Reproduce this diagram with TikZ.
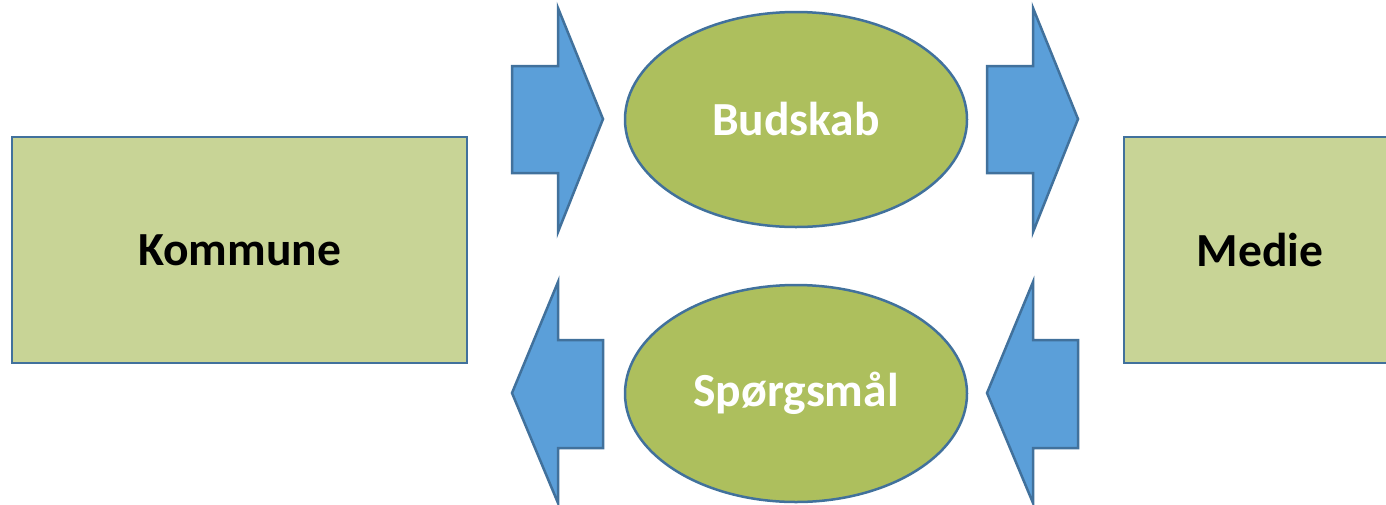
\documentclass[tikz,border=0pt]{standalone}
\usepackage{fontspec}
\setmainfont{Carlito}
\usetikzlibrary{shapes.geometric}
\definecolor{boxfill}{HTML}{C8D496}
\definecolor{ellfill}{HTML}{ADBF5D}
\definecolor{arrfill}{HTML}{5B9FD9}
\definecolor{edge}{HTML}{41719C}
\begin{document}
\begin{tikzpicture}[x=1pt,y=-1pt,
  boxstyle/.style={draw=edge,line width=2.5pt,fill=boxfill,rectangle,inner sep=0pt,
     font=\fontsize{47.5}{52}\selectfont\bfseries,text=black},
  ellstyle/.style={draw=edge,line width=2.5pt,fill=ellfill,ellipse,inner sep=0pt,
     font=\fontsize{47.5}{52}\selectfont\bfseries,text=white},
  blockarrow/.style={draw=edge,line width=2.5pt,fill=arrfill,line join=miter}]
\clip (0,0) rectangle (1386,504);
\useasboundingbox (0,0) rectangle (1386,504);
\node[boxstyle,minimum width=455pt,minimum height=226pt] (kommune) at (239.5,250) {Kommune};
\node[boxstyle,minimum width=300pt,minimum height=226pt] (medie) at (1274,250) {\hspace*{-28pt}Medie};
\node[ellstyle,minimum width=342pt,minimum height=215pt] (budskab) at (796,119.5) {Budskab};
\node[ellstyle,minimum width=342pt,minimum height=217pt] (sporgsmal) at (796,393.5) {Spørgsmål};
% upper-left arrow (right)
\draw[blockarrow] (512,66) -- (558,66) -- (558,8) -- (603,119) -- (558,232) -- (558,173) -- (512,173) -- cycle;
% upper-right arrow (right)
\draw[blockarrow] (987,66) -- (1033,66) -- (1033,8) -- (1078,119) -- (1033,232) -- (1033,173) -- (987,173) -- cycle;
% lower-left arrow (left)
\draw[blockarrow] (603,340) -- (558,340) -- (558,282) -- (512,393) -- (558,503) -- (558,448) -- (603,448) -- cycle;
% lower-right arrow (left)
\draw[blockarrow] (1078,340) -- (1033,340) -- (1033,282) -- (987,393) -- (1033,503) -- (1033,448) -- (1078,448) -- cycle;
\end{tikzpicture}
\end{document}
